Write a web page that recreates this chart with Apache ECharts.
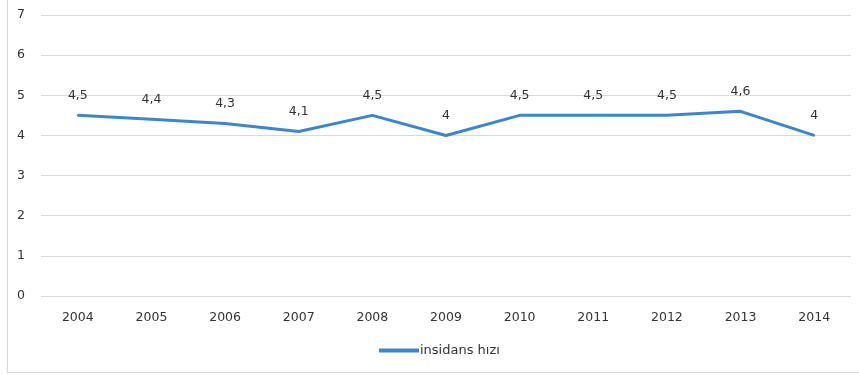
<!DOCTYPE html>
<html>
<head>
<meta charset="utf-8">
<script src="https://cdn.jsdelivr.net/npm/echarts@6/dist/echarts.min.js"></script>
<style>
  html, body { margin: 0; padding: 0; background: #fff; }
  #chart { width: 859px; height: 375px; }
</style>
</head>
<body>
<div id="chart"></div>
<script>
// Yearly incidence rate
const years = ['2004', '2005', '2006', '2007', '2008', '2009', '2010', '2011', '2012', '2013', '2014'];
const incidence = [4.5, 4.4, 4.3, 4.1, 4.5, 4.0, 4.5, 4.5, 4.5, 4.6, 4.0];
const seriesName = 'insidans hızı';

const textColor = '#333333';
const gridColor = '#d9d9d9';
const lineColor = '#3b86cf';
const font = 'DejaVu Sans';

const chart = echarts.init(document.getElementById('chart'), null, { renderer: 'canvas' });

chart.setOption({
  animation: false,
  backgroundColor: '#ffffff',
  textStyle: { fontFamily: font },
  grid: { left: 41, right: 8, top: 15, bottom: 79, containLabel: false },
  legend: {
    data: [seriesName],
    bottom: 13,
    left: 374,
    itemWidth: 40,
    itemHeight: 4,
    itemGap: 4,
    icon: 'rect',
    textStyle: { color: textColor, fontSize: 13, fontFamily: font, padding: [0, 0, 0, -4] }
  },
  xAxis: {
    type: 'category',
    data: years,
    boundaryGap: true,
    axisLine: { show: false },
    axisTick: { show: false },
    axisLabel: { color: textColor, fontSize: 12.5, margin: 15, fontFamily: font }
  },
  yAxis: {
    type: 'value',
    min: 0,
    max: 7,
    interval: 1,
    axisLine: { show: false },
    axisTick: { show: false },
    axisLabel: { color: textColor, fontSize: 12.5, margin: 16, fontFamily: font },
    splitLine: { lineStyle: { color: gridColor, width: 1 } }
  },
  series: [{
    name: seriesName,
    type: 'line',
    data: incidence,
    symbol: 'circle',
    symbolSize: 2,
    lineStyle: { color: lineColor, width: 3 },
    itemStyle: { color: lineColor },
    label: {
      show: true,
      position: 'top',
      distance: 12,
      color: textColor,
      fontSize: 12.5,
      fontFamily: font,
      formatter: p => String(p.value).replace('.', ',')
    }
  }],
  graphic: [
    { type: 'line', shape: { x1: 7.5, y1: 0, x2: 7.5, y2: 373 }, style: { stroke: gridColor, lineWidth: 1 } },
    { type: 'line', shape: { x1: 7, y1: 372.5, x2: 859, y2: 372.5 }, style: { stroke: gridColor, lineWidth: 1 } }
  ]
});
</script>
</body>
</html>
